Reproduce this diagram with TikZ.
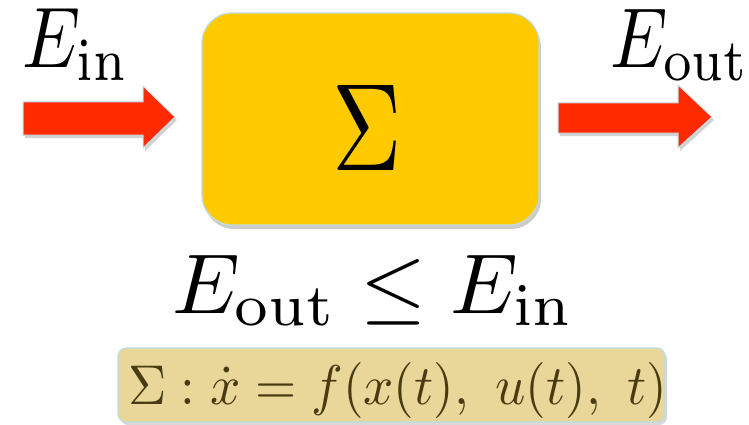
\documentclass[tikz,border=0pt]{standalone}
\usetikzlibrary{shadows}
\definecolor{boxyellow}{HTML}{FFCA00}
\definecolor{edgeblue}{HTML}{BFDDE3}
\definecolor{arrowred}{HTML}{FF2A00}
\definecolor{tanfill}{HTML}{E9D699}
\definecolor{olivetext}{HTML}{4A3A12}
\tikzset{
  bigarrow/.style={fill=arrowred, draw=edgeblue, line width=1pt, line join=miter,
    drop shadow={opacity=0.35, shadow xshift=2pt, shadow yshift=-3pt}},
  sysbox/.style={rectangle, rounded corners=30pt, fill=boxyellow, draw=edgeblue, line width=1.2pt,
    minimum width=337pt, minimum height=212pt, inner sep=0pt,
    drop shadow={opacity=0.4, shadow xshift=2pt, shadow yshift=-4pt}},
  formulabox/.style={rectangle, rounded corners=8pt, fill=tanfill, draw=edgeblue, line width=1.2pt,
    minimum width=547pt, minimum height=74pt, inner sep=0pt,
    drop shadow={opacity=0.3, shadow xshift=2pt, shadow yshift=-3pt}},
  lbl/.style={anchor=base west, inner sep=0pt, outer sep=0pt}
}
\begin{document}
\begin{tikzpicture}[x=1pt,y=-1pt]
\useasboundingbox[fill=white] (0,0) rectangle (749,425);
% arrows
\path[bigarrow] (23,102) -- (143,102) -- (143,86) -- (175,117) -- (143,148) -- (143,135) -- (23,135) -- cycle;
\path[bigarrow] (558,103) -- (678,103) -- (678,85) -- (712,117) -- (678,148) -- (678,133) -- (558,133) -- cycle;
% system box
\node[sysbox] (sys) at (370.5,119) {};
\node[inner sep=0pt] (sig) at (367,127.5) {\scalebox{9.6}[12.45]{$\Sigma$}};
% labels
\node[lbl] (ein) at (23,68) {\scalebox{7.3}[8.6]{$E_{\mathrm{in}}$}};
\node[lbl] (eout) at (610,68) {\scalebox{7.2}[8.5]{$E_{\mathrm{out}}$}};
\node[lbl] (ineq) at (172,313) {\scalebox{8.5}{$E_{\mathrm{out}}\leq E_{\mathrm{in}}$}};
% formula
\node[formulabox] (fbox) at (391.5,385) {};
\node[lbl, text=olivetext] (eq) at (128,404) {\scalebox{5.3}[5.6]{$\Sigma:\dot{x}=f(x(t),\ u(t),\ t)$}};
\end{tikzpicture}
\end{document}
